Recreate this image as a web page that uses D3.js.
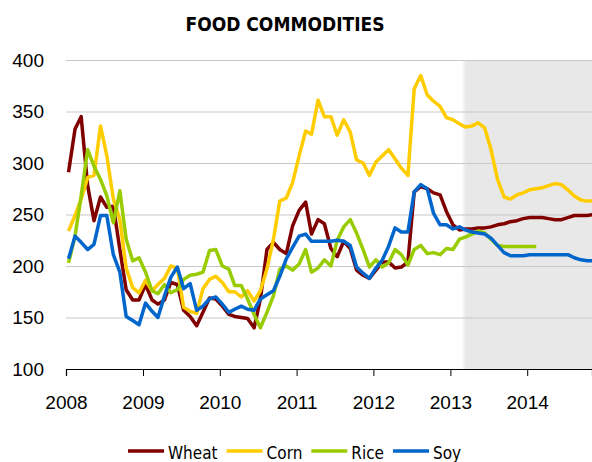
<!DOCTYPE html>
<html>
<head>
<meta charset="utf-8">
<script src="https://cdn.jsdelivr.net/npm/d3@7"></script>
<style>
  body { margin: 0; background: #fff; }
  svg { display: block; font-family: "DejaVu Sans Condensed", "DejaVu Sans", sans-serif; font-stretch: condensed; }
</style>
</head>
<body>
<div id="wrapper"></div>
<script>
// monthly index values, Jan 2008 onwards (forecast from spring 2013)
const wheat = [291, 333, 345, 278, 244, 267, 257, 258, 216, 177, 167, 167, 182, 167, 163, 167, 184, 182, 157, 151,
  142, 155, 169, 168, 161, 153, 151, 150, 149, 140, 168, 216, 223, 216, 212, 239, 254, 262, 231, 245,
  241, 217, 209, 224, 217, 196, 191, 188, 196, 204, 204, 198, 199, 204, 272, 277, 275, 271, 269, 253,
  240, 235, 236, 236, 237, 237, 238, 240, 241, 243, 244, 246, 247, 247, 247, 246, 245, 245, 247, 249,
  249, 249, 250]
const corn = [234, 249, 265, 286, 288, 336, 307, 265, 245, 198, 179, 174, 186, 176, 182, 188, 200, 198, 160, 156,
  154, 178, 187, 190, 184, 175, 175, 170, 176, 166, 176, 197, 226, 263, 266, 281, 307, 331, 328, 361,
  345, 345, 327, 342, 330, 303, 300, 288, 301, 307, 313, 304, 295, 288, 372, 385, 366, 360, 355, 344,
  342, 338, 335, 336, 339, 334, 313, 284, 267, 265, 269, 271, 274, 275, 276, 278, 280, 279, 274, 268,
  264, 263, 263]
const rice = [203, 229, 268, 313, 297, 284, 268, 242, 273, 226, 205, 208, 194, 176, 173, 182, 174, 177, 187, 191,
  192, 194, 215, 216, 200, 197, 181, 181, 168, 153, 140, 155, 171, 197, 200, 196, 202, 216, 194, 198,
  206, 200, 225, 238, 245, 232, 216, 199, 206, 199, 203, 216, 211, 201, 216, 220, 212, 213, 211, 217,
  216, 226, 228, 231, 234, 232, 226, 220, 219, 219, 219, 219, 219, 219]
const soy = [207, 229, 223, 216, 221, 249, 249, 211, 194, 151, 147, 143, 164, 156, 150, 171, 189, 199, 178, 183,
  157, 161, 168, 170, 163, 155, 158, 161, 158, 157, 168, 172, 176, 190, 207, 218, 229, 231, 224, 224,
  224, 224, 225, 224, 220, 199, 193, 188, 198, 206, 219, 237, 233, 233, 272, 279, 275, 251, 240, 240,
  236, 238, 235, 233, 232, 231, 227, 220, 213, 210, 210, 210, 211, 211, 211, 211, 211, 211, 211, 208,
  206, 205, 205]

const seriesNames = ["Wheat", "Corn", "Rice", "Soy"]
const seriesColors = ["#800000", "#ffcc00", "#99cc00", "#0066cc"]
const yTicks = [100, 150, 200, 250, 300, 350, 400]
const forecastStart = new Date(2013, 2, 15)

const allSeries = [wheat, corn, rice, soy].map((values, k) => ({
  name: seriesNames[k],
  color: seriesColors[k],
  points: values.map((v, i) => ({ date: new Date(2008, i, 13), value: v }))
}))

const dims = {
  width: 592,
  height: 462,
  margin: { top: 60, right: 0, bottom: 93, left: 66 }
}
dims.boundedWidth = dims.width - dims.margin.left - dims.margin.right
dims.boundedHeight = dims.height - dims.margin.top - dims.margin.bottom

const svg = d3.select("#wrapper")
  .append("svg")
  .attr("width", dims.width)
  .attr("height", dims.height)

svg.append("text")
  .attr("x", 285)
  .attr("y", 31)
  .attr("text-anchor", "middle")
  .style("font-weight", "bold")
  .style("font-size", "19px")
  .text("FOOD COMMODITIES")

const bounds = svg.append("g")
  .attr("transform", `translate(${dims.margin.left},${dims.margin.top})`)

const xScale = d3.scaleTime()
  .domain([new Date(2008, 0, 1), new Date(2014, 10, 5)])
  .range([0, dims.boundedWidth])

const yScale = d3.scaleLinear()
  .domain([100, 400])
  .range([dims.boundedHeight, 0])

// forecast shading
const defs = svg.append("defs")
const grad = defs.append("linearGradient").attr("id", "fade")
grad.append("stop").attr("offset", "0%").attr("stop-color", "#e8e8e8").attr("stop-opacity", 0)
grad.append("stop").attr("offset", "100%").attr("stop-color", "#e8e8e8").attr("stop-opacity", 1)

bounds.append("rect")
  .attr("x", xScale(forecastStart))
  .attr("y", 0)
  .attr("width", dims.boundedWidth - xScale(forecastStart))
  .attr("height", dims.boundedHeight)
  .attr("fill", "#e8e8e8")
bounds.append("rect")
  .attr("x", xScale(forecastStart) - 4)
  .attr("y", 0)
  .attr("width", 4)
  .attr("height", dims.boundedHeight)
  .attr("fill", "url(#fade)")

// y axis with gridlines
const yAxis = bounds.append("g")
  .call(d3.axisLeft(yScale).tickValues(yTicks).tickSize(-dims.boundedWidth).tickPadding(22))
yAxis.select(".domain").remove()
yAxis.selectAll("line").attr("stroke", "#c8c8c8")
yAxis.selectAll("text")
  .attr("fill", "#000")
  .style("font-size", "19px")
  .style("font-family", null)

// lines
const lineGen = d3.line()
  .x(d => xScale(d.date))
  .y(d => yScale(d.value))

bounds.append("g")
  .selectAll("path")
  .data(allSeries)
  .join("path")
  .attr("d", d => lineGen(d.points))
  .attr("fill", "none")
  .attr("stroke", d => d.color)
  .attr("stroke-width", 3.5)
  .attr("stroke-linejoin", "round")

// x axis
const xAxis = bounds.append("g")
  .attr("transform", `translate(0,${dims.boundedHeight})`)
  .call(d3.axisBottom(xScale).ticks(d3.timeYear.every(1)).tickFormat(d3.timeFormat("%Y")).tickSizeOuter(0).tickSize(7))
xAxis.select(".domain").attr("stroke", "#000").attr("stroke-width", 1.2)
xAxis.selectAll("line").attr("stroke", "#000")
xAxis.selectAll("text")
  .attr("y", 40)
  .attr("dy", 0)
  .attr("fill", "#000")
  .style("font-size", "19px")
  .style("font-family", null)

// legend
const legend = svg.append("g").attr("transform", "translate(128,451)")
let lx = 0
allSeries.forEach(s => {
  const item = legend.append("g").attr("transform", `translate(${lx},0)`)
  item.append("line")
    .attr("x1", 0).attr("x2", 36)
    .attr("stroke", s.color)
    .attr("stroke-width", 3.5)
  const t = item.append("text")
    .attr("x", 40)
    .attr("y", 8)
    .style("font-size", "17px")
    .text(s.name)
  lx += 40 + t.node().getComputedTextLength() + 9
})
</script>
</body>
</html>
